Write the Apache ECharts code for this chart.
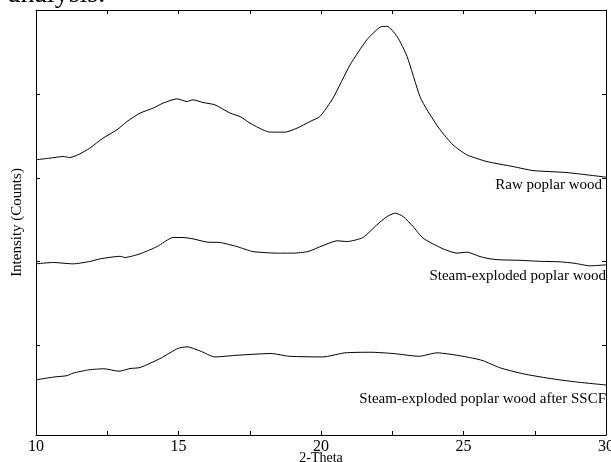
<!DOCTYPE html>
<html>
<head>
<meta charset="utf-8">
<script src="https://cdn.jsdelivr.net/npm/echarts@6/dist/echarts.min.js"></script>
<style>
html,body{margin:0;padding:0;background:#fff;}
#chart{width:611px;height:462px;}
</style>
</head>
<body>
<div id="chart"></div>
<script>
// ---- data ----
var xTickLabels = [10, 15, 20, 25, 30];
var yTickValues = [1, 2, 3, 4];

var rawTheta = [10.0,10.49,10.95,11.19,11.54,11.89,12.35,12.84,13.19,13.65,14.11,14.46,14.95,15.30,15.51,15.86,16.28,16.81,17.16,17.51,17.96,18.21,18.74,19.16,19.61,19.96,20.42,21.02,21.61,22.07,22.32,22.67,23.02,23.47,23.72,24.18,24.63,25.12,25.82,26.74,27.44,28.63,30.0];
var rawIntensity = [3.216,3.236,3.255,3.243,3.287,3.356,3.475,3.575,3.674,3.775,3.835,3.895,3.946,3.914,3.934,3.902,3.874,3.775,3.734,3.655,3.575,3.547,3.547,3.595,3.674,3.734,3.954,4.353,4.653,4.805,4.814,4.692,4.453,3.974,3.814,3.575,3.395,3.275,3.195,3.135,3.087,3.063,3.008];

var steamTheta = [10.0,10.60,11.30,11.89,12.25,12.95,13.12,13.65,14.25,14.81,15.16,15.51,16.0,16.46,17.05,17.61,18.46,19.02,19.54,20.07,20.56,20.91,21.47,21.96,22.32,22.60,22.88,23.23,23.58,24.28,24.77,25.12,25.58,25.93,26.28,26.98,27.68,28.39,28.91,29.44,30.0];
var steamIntensity = [1.970,1.986,1.970,1.998,2.030,2.060,2.046,2.090,2.177,2.285,2.285,2.269,2.230,2.225,2.177,2.117,2.098,2.098,2.117,2.189,2.246,2.237,2.285,2.437,2.537,2.577,2.537,2.417,2.278,2.150,2.098,2.110,2.057,2.030,2.018,2.012,2.000,1.994,1.976,1.946,1.958];

var sscfTheta = [10.0,10.60,11.09,11.30,11.86,12.39,12.91,13.30,13.65,14.35,14.98,15.30,15.75,16.28,17.05,18.25,18.88,20.07,20.84,21.75,22.53,23.44,24.07,24.98,25.65,26.28,27.09,28.0,28.88,30.0];
var sscfIntensity = [0.581,0.613,0.631,0.661,0.701,0.713,0.684,0.716,0.728,0.835,0.957,0.976,0.928,0.855,0.875,0.896,0.863,0.855,0.904,0.911,0.896,0.863,0.904,0.863,0.814,0.725,0.653,0.599,0.558,0.519];

var seriesNames = ['Raw poplar wood', 'Steam-exploded poplar wood', 'Steam-exploded poplar wood after SSCF'];

function pairs(xs, ys) { return xs.map(function (x, i) { return [x, ys[i]]; }); }

var FONT = '"Liberation Serif","DejaVu Serif",serif';
var chart = echarts.init(document.getElementById('chart'), null, {renderer: 'canvas'});

var xCommon = {
  type: 'value', min: 10, max: 30, interval: 2.5,
  axisLine: {show: true, onZero: false, lineStyle: {color: '#000', width: 1}},
  axisTick: {show: true, inside: true, length: 4, lineStyle: {color: '#000'}},
  splitLine: {show: false}
};
var yCommon = {
  type: 'value', min: -0.08, max: 5.01,
  axisLine: {show: true, onZero: false, lineStyle: {color: '#000', width: 1}},
  axisTick: {show: true, inside: true, length: 4, customValues: yTickValues, lineStyle: {color: '#000'}},
  axisLabel: {show: false},
  splitLine: {show: false}
};

chart.setOption({
  animation: false,
  backgroundColor: '#fff',
  grid: {left: 36, right: 5, top: 10, bottom: 27, containLabel: false, outerBoundsMode: 'none'},
  xAxis: [
    Object.assign({}, xCommon, {
      position: 'bottom',
      name: '2-Theta', nameLocation: 'middle', nameGap: 16, nameMoveOverlap: false,
      nameTextStyle: {fontFamily: FONT, fontSize: 14, color: '#000'},
      axisLabel: {
        show: true, margin: 4, fontFamily: FONT, fontSize: 16, color: '#000',
        formatter: function (v) { return xTickLabels.indexOf(v) >= 0 ? String(v) : ''; }
      }
    }),
    Object.assign({}, xCommon, {position: 'top', axisLabel: {show: false}})
  ],
  yAxis: [
    Object.assign({}, yCommon, {
      position: 'left',
      name: 'Intensity (Counts)', nameLocation: 'middle', nameGap: 11, nameMoveOverlap: false,
      nameTextStyle: {fontFamily: FONT, fontSize: 15, color: '#000'}
    }),
    Object.assign({}, yCommon, {position: 'right'})
  ],
  series: [
    {name: seriesNames[0], type: 'line', data: pairs(rawTheta, rawIntensity)},
    {name: seriesNames[1], type: 'line', data: pairs(steamTheta, steamIntensity)},
    {name: seriesNames[2], type: 'line', data: pairs(sscfTheta, sscfIntensity)}
  ].map(function (s) {
    return Object.assign(s, {showSymbol: false, symbol: 'none', smooth: 0.2,
      lineStyle: {color: '#000', width: 1}, silent: true});
  }),
  graphic: [
    {type: 'text', right: 9, top: 178, style: {text: seriesNames[0], font: '15px ' + FONT, fill: '#000'}},
    {type: 'text', right: 5, top: 269, style: {text: seriesNames[1], font: '15px ' + FONT, fill: '#000'}},
    {type: 'text', right: 5, top: 392, style: {text: seriesNames[2], font: '15px ' + FONT, fill: '#000'}},
    {type: 'text', left: 8, top: -19, style: {text: 'analysis.', font: '28px ' + FONT, fill: '#000'}}
  ]
});
</script>
</body>
</html>
